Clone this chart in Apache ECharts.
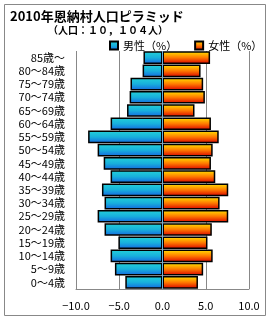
<!DOCTYPE html>
<html><head><meta charset="utf-8">
<script src="https://cdn.jsdelivr.net/npm/echarts@6/dist/echarts.min.js"></script>
<style>html,body{margin:0;padding:0;background:#fff}#c{width:270px;height:320px}</style>
</head><body><div id="c"></div>
<script>
const categories = ['0～4歳','5～9歳','10～14歳','15～19歳','20～24歳','25～29歳','30～34歳','35～39歳','40～44歳','45～49歳','50～54歳','55～59歳','60～64歳','65～69歳','70～74歳','75～79歳','80～84歳','85歳～'];
const male = [4.3,5.5,6.0,5.1,6.7,7.5,6.7,7.0,6.0,6.8,7.5,8.6,6.0,4.1,3.8,3.7,2.3,2.2];
const female = [4.1,4.7,5.8,5.2,5.7,7.6,6.6,7.6,6.1,5.6,5.8,6.5,5.6,3.7,4.9,4.7,4.4,5.5];
const xTicks = [-10,-5,0,5,10];
const title = '2010年恩納村人口ピラミッド';
const subtitle = '（人口：１０，１０４人）';
const seriesNames = ['男性（%）','女性（%）'];

const FONT = '"Noto Sans CJK JP", sans-serif';
const blueGrad = new echarts.graphic.LinearGradient(0,0,0,1,[{offset:0,color:'#24d2d8'},{offset:0.5,color:'#18b0dc'},{offset:1,color:'#1466e0'}]);
const redGrad = new echarts.graphic.LinearGradient(0,0,0,1,[{offset:0,color:'#ffe600'},{offset:0.5,color:'#ff7a00'},{offset:1,color:'#d80000'}]);

const chart = echarts.init(document.getElementById('c'), null, {renderer:'canvas'});
chart.setOption({
  animation:false,
  backgroundColor:'#fff',
  graphic:[{type:'rect',shape:{x:4.5,y:4.5,width:261,height:311},style:{fill:'none',stroke:'#888',lineWidth:1},z:-1}],
  title:[
    {text:title,left:5,top:5,textStyle:{fontFamily:FONT,fontSize:13,fontWeight:'bold',color:'#000'}},
    {text:subtitle,left:43,top:20,textStyle:{fontFamily:FONT,fontSize:10,fontWeight:'bold',color:'#000'}}
  ],
  legend:{
    orient:'horizontal',left:104,top:35,width:166,itemWidth:8,itemHeight:8,itemGap:17,icon:'rect',
    textStyle:{fontFamily:FONT,fontSize:11,color:'#000'},
    data:seriesNames
  },
  grid:{left:76,right:21,top:51,bottom:31,containLabel:false},
  xAxis:{
    type:'value',min:-10,max:10,interval:5,
    axisLine:{show:true,lineStyle:{color:'#888'}},
    axisTick:{show:false},
    splitLine:{show:true,lineStyle:{color:'#888',width:1}},
    axisLabel:{margin:11,fontFamily:FONT,fontSize:11,color:'#000',formatter:v=>(v<0?'−':'')+Math.abs(v).toFixed(1)}
  },
  yAxis:{
    type:'category',data:categories,
    axisLine:{show:false},axisTick:{show:false},
    axisLabel:{interval:0,margin:11,fontFamily:FONT,fontSize:11,color:'#000'}
  },
  series:[
    {name:seriesNames[0],type:'bar',data:male.map(v=>-v),barGap:'-100%',barCategoryGap:'4%',
      itemStyle:{color:blueGrad,borderColor:'#000',borderWidth:1.5}},
    {name:seriesNames[1],type:'bar',data:female,barGap:'-100%',barCategoryGap:'4%',
      itemStyle:{color:redGrad,borderColor:'#000',borderWidth:1.5},
      markLine:{silent:true,symbol:'none',label:{show:false},lineStyle:{color:'#6fb0d8',width:1,type:'solid'},data:[{xAxis:0}]}}
  ]
});
</script></body></html>
